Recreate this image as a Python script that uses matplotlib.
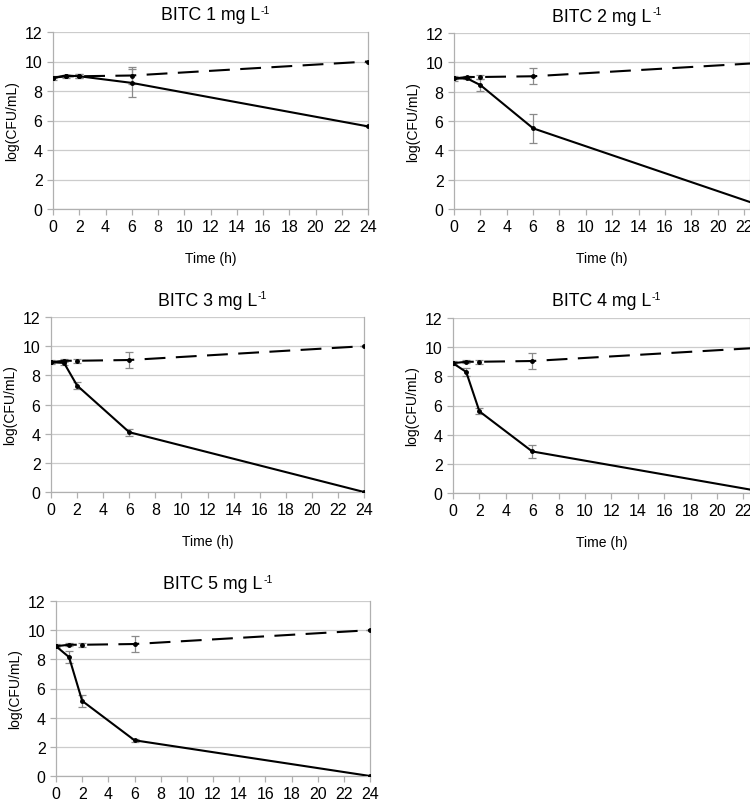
import matplotlib
matplotlib.use("Agg")
import matplotlib.pyplot as plt

plt.rcParams['font.family'] = ['Liberation Sans', 'DejaVu Sans']

# datos
tiempos = [0, 1, 2, 6, 24]
control = [8.9, 9.0, 9.0, 9.05, 10.0]
control_err = [0.15, 0.1, 0.15, 0.55, 0.0]

dosis = [1, 2, 3, 4, 5]
tratamientos = [
    [8.9, 9.05, 9.0, 8.55, 5.6],
    [8.9, 8.9, 8.45, 5.5, 0.0],
    [8.9, 8.85, 7.3, 4.1, 0.0],
    [8.9, 8.3, 5.6, 2.85, 0.0],
    [8.9, 8.15, 5.15, 2.45, 0.0],
]
tratamientos_err = [
    [0.05, 0.05, 0.15, 0.95, 0.0],
    [0.05, 0.05, 0.4, 1.0, 0.0],
    [0.05, 0.15, 0.25, 0.25, 0.0],
    [0.05, 0.25, 0.2, 0.45, 0.0],
    [0.05, 0.4, 0.4, 0.1, 0.0],
]

# posiciones de los ejes en pixeles: izquierda, arriba, derecha, abajo
W, H = 750, 803
cajas = [
    (53, 33, 368, 210),
    (454, 34, 750, 210),
    (51, 318, 364, 493),
    (453, 319, 750, 494),
    (56, 602, 370, 777),
]
xmax = [24, 22.45, 24, 22.5, 24]
con_xlabel = [True, True, True, True, False]

fig = plt.figure(figsize=(W / 100, H / 100), dpi=100)

for i in range(5):
    l, t, r, b = cajas[i]
    ax = fig.add_axes([l / W, 1 - b / H, (r - l) / W, (b - t) / H])
    ax.errorbar(tiempos, control, yerr=control_err, fmt='none', ecolor='#8a8a8a',
                elinewidth=0.9, capsize=3, capthick=0.9, zorder=2)
    ax.errorbar(tiempos, tratamientos[i], yerr=tratamientos_err[i], fmt='none',
                ecolor='#8a8a8a', elinewidth=0.9, capsize=3, capthick=0.9, zorder=2)
    ax.plot(tiempos, control, color='black', lw=1.5, dashes=(10, 5),
            marker='o', markersize=2.5, zorder=3)
    ax.plot(tiempos, tratamientos[i], color='black', lw=1.5,
            marker='o', markersize=2.5, zorder=3)

    ax.set_xticks(range(0, 25, 2))
    ax.set_yticks(range(0, 13, 2))
    ax.set_xlim(0, xmax[i])
    ax.set_ylim(0, 12)
    ax.grid(axis='y', color='#cccccc', lw=0.9)
    ax.set_axisbelow(True)
    ax.spines['top'].set_visible(False)
    for lado in ['left', 'bottom', 'right']:
        ax.spines[lado].set_color('#b0b0b0')
        ax.spines[lado].set_linewidth(0.9)
    ax.tick_params(colors='#b0b0b0', length=4, width=0.9, labelcolor='black',
                   labelsize=11.5)
    titulo = ax.set_title('BITC %d mg L' % dosis[i], fontsize=12.8, pad=9)
    ax.annotate('-1', xy=(1, 1), xycoords=titulo, xytext=(0.5, 1),
                textcoords='offset points', fontsize=7.5, va='top', ha='left')
    ax.set_ylabel('log(CFU/mL)', fontsize=10, labelpad=4)
    if con_xlabel[i]:
        ax.set_xlabel('Time (h)', fontsize=10, labelpad=12)

fig.savefig('out.png', dpi=100)
